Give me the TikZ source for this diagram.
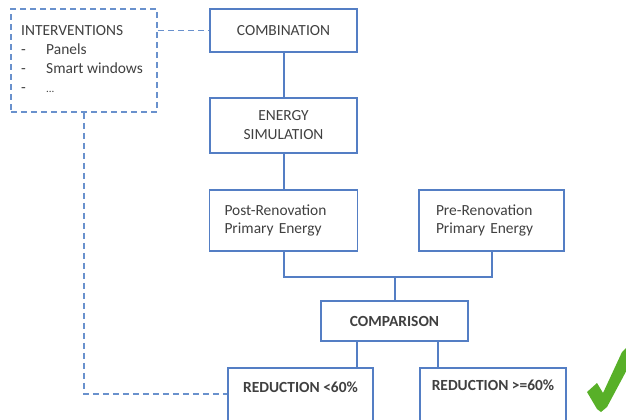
\documentclass[tikz,border=0pt]{standalone}
\usepackage{fontspec}
\setmainfont{Carlito}
\definecolor{boxblue}{RGB}{84,126,196}
\definecolor{dashblue}{RGB}{105,145,205}
\definecolor{txt}{RGB}{64,64,64}
\definecolor{checkgreen}{RGB}{88,176,40}
\begin{document}
\begin{tikzpicture}[x=1bp,y=-1bp,
  every node/.style={font=\fontsize{15.5}{19}\selectfont, text=txt},
  box/.style={draw=boxblue, line width=1.8bp, rectangle, inner sep=0pt, align=center},
  dbox/.style={draw=dashblue, line width=1.6bp, dash pattern=on 6bp off 4bp, rectangle, inner sep=0pt},
  conn/.style={draw=boxblue, line width=2bp},
  dconn/.style={draw=dashblue, line width=1.6bp, dash pattern=on 6bp off 4bp}]
\useasboundingbox (0,0) rectangle (626,419);
\clip (0,0) rectangle (626,419);
% boxes
\node[dbox, minimum width=146bp, minimum height=103bp] (interv) at (84,60.5) {};
\node[anchor=base west, inner sep=0pt] (tI) at (21,35) {INTERVENTIONS};
\node[anchor=base west, inner sep=0pt] (d1) at (21,54) {-};
\node[anchor=base west, inner sep=0pt] (t1) at (46,54) {Panels};
\node[anchor=base west, inner sep=0pt] (d2) at (21,73) {-};
\node[anchor=base west, inner sep=0pt] (t2) at (46,73) {Smart windows};
\node[anchor=base west, inner sep=0pt] (d3) at (21,92) {-};
\node[anchor=base west, inner sep=0pt] (t3) at (46,92) {\fontsize{11}{13}\selectfont ...};

\node[box, minimum width=147bp, minimum height=43bp] (comb) at (283.5,30.5) {COMBINATION};
\node[box, minimum width=147bp, minimum height=55bp] (sim) at (283.5,125.5) {ENERGY\\SIMULATION};
\node[box, minimum width=148bp, minimum height=61bp, text width=118bp, inner xsep=15bp, align=left] (post) at (283.5,220.5) {Post-Renovation\\Primary Energy};
\node[box, minimum width=145bp, minimum height=61bp, text width=111bp, inner xsep=17bp, align=left] (pre) at (491.5,220.5) {Pre-Renovation\\Primary Energy};
\node[box, minimum width=147bp, minimum height=40bp, font=\fontsize{15.5}{19}\selectfont\bfseries] (comp) at (394.5,321) {COMPARISON};
\node[box, anchor=north, minimum width=145bp, text height=25bp, text depth=35bp, font=\fontsize{15.5}{19}\selectfont\bfseries] (red1) at (300.5,367) {REDUCTION <60\%};
\node[box, anchor=north, minimum width=146bp, text height=23bp, text depth=37bp, font=\fontsize{15.5}{19}\selectfont\bfseries] (red2) at (493,367) {REDUCTION >=60\%};

% connectors
\coordinate (j) at (394.5,277);
\coordinate (c1) at (357,0);
\coordinate (c2) at (438,0);
\draw[dconn] (comb.west -| interv.east) -- (comb.west);
\draw[conn] (comb.south) -- (sim.north);
\draw[conn] (sim.south) -- (post.north);
\draw[conn] (post.south) -- (post.south |- j) -- (pre.south |- j) -- (pre.south);
\draw[conn] (j) -- (comp.north);
\draw[conn] (comp.south -| c1) -- (red1.north -| c1);
\draw[conn] (comp.south -| c2) -- (red2.north -| c2);
\draw[dconn] (interv.south) |- ([yshift=4bp]red1.west);

% check mark
\fill[checkgreen] (587,392) -- (597,383) -- (603,393) -- (622,352) -- (630,344) -- (630,364) -- (607,407) -- (601,412) -- (597,409) -- cycle;
\end{tikzpicture}
\end{document}
